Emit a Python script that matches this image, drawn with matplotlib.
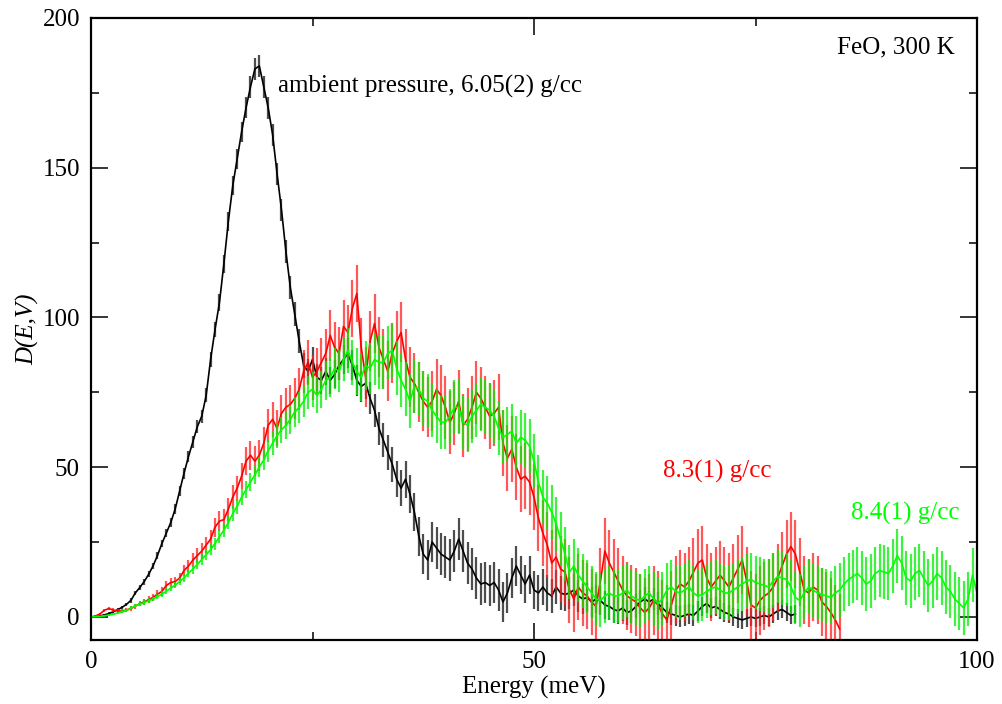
import matplotlib
matplotlib.use("Agg")
import matplotlib.pyplot as plt
from matplotlib.ticker import MultipleLocator
import numpy as np

plt.rcParams['font.family'] = ['Liberation Serif', 'DejaVu Serif']

STEP = 0.5
# ---------------- ambient pressure (black) ----------------
black_D = [
    0.0, 0.1, 0.3, 0.7, 1.1, 1.7, 2.4, 3.2, 4.2, 5.5,
    8.0, 9.8, 11.8, 14.2, 17.0, 20.5, 24.5, 28.0, 31.5, 36.0,
    42.0, 48.0, 53.5, 58.5, 63.5, 67.0, 74.0, 86.0, 96.0, 105.0,
    118.0, 132.0, 144.0, 153.0, 162.0, 170.0, 177.0, 183.0, 184.0, 177.0,
    170.0, 161.0, 148.0, 136.0, 122.0, 110.0, 101.0, 92.0, 84.0, 82.0,
    86.0, 80.0, 79.0, 82.0, 79.0, 81.0, 84.0, 86.0, 88.0, 84.0,
    79.0, 77.0, 78.0, 73.0, 69.0, 63.0, 59.0, 55.0, 51.0, 46.0,
    43.0, 46.0, 41.0, 35.0, 27.0, 21.0, 19.0, 25.0, 23.0, 21.0,
    20.0, 19.0, 22.0, 26.0, 22.0, 18.0, 16.0, 13.0, 11.0, 11.5,
    10.5, 11.5, 9.0, 5.0, 8.0, 13.0, 17.0, 14.0, 11.0, 14.0,
    9.0, 8.0, 10.0, 8.0, 7.0, 10.0, 8.0, 7.5, 8.0, 9.0,
    7.0, 6.0, 6.5, 5.0, 6.0, 5.5, 4.0, 3.5, 2.5, 2.0,
    3.0, 1.5, 2.0, 3.5, 5.0, 6.0, 5.0, 6.0, 4.5, 3.0,
    1.5, 1.0, 0.5, 0.0, 0.5, 1.0, 0.5, 2.0, 3.5, 4.5,
    3.0, 3.5, 2.5, 1.5, 1.0, 0.0, -0.5, -1.0, -0.5, 0.0,
    -0.5, 0.0, 0.5, 0.0, 1.0, 2.0, 2.5, 1.5, 0.5, 1.0,
]
black_err = [
    0.2, 0.2, 0.3, 0.3, 0.4, 0.4, 0.5, 0.5, 0.6, 0.7,
    0.8, 0.9, 1.0, 1.0, 1.1, 1.2, 1.3, 1.4, 1.5, 1.6,
    1.7, 1.8, 1.9, 2.0, 2.1, 2.2, 2.3, 2.4, 2.6, 2.8,
    3.0, 3.1, 3.2, 3.3, 3.4, 3.5, 3.6, 3.6, 3.6, 3.6,
    3.6, 3.6, 3.6, 3.7, 3.8, 3.9, 4.0, 4.0, 4.1, 4.2,
    4.3, 4.4, 4.4, 4.5, 4.6, 4.7, 4.8, 4.9, 5.0, 5.0,
    5.1, 5.2, 5.3, 5.4, 5.5, 5.6, 5.7, 5.8, 5.9, 6.0,
    6.1, 6.2, 6.3, 6.4, 6.5, 6.6, 6.7, 6.8, 6.9, 7.0,
    7.0, 7.0, 7.0, 7.0, 7.0, 7.0, 7.0, 7.0, 7.0, 7.0,
    7.0, 7.0, 6.9, 6.8, 6.8, 6.7, 6.6, 6.5, 6.4, 6.3,
    6.2, 6.1, 6.0, 5.9, 5.8, 5.7, 5.6, 5.5, 5.4, 5.3,
    5.2, 5.1, 5.0, 4.9, 4.8, 4.7, 4.6, 4.5, 4.4, 4.3,
    4.2, 4.1, 4.0, 4.0, 3.9, 3.9, 3.8, 3.8, 3.7, 3.7,
    3.6, 3.6, 3.5, 3.5, 3.5, 3.4, 3.4, 3.4, 3.3, 3.3,
    3.3, 3.2, 3.2, 3.2, 3.1, 3.1, 3.1, 3.0, 3.0, 3.0,
    3.0, 3.0, 3.0, 3.0, 3.0, 3.0, 3.0, 3.0, 3.0, 3.0,
]
# ---------------- 8.3(1) g/cc (red) ----------------
red_D = [
    0.0, 0.3, 1.0, 2.2, 2.8, 2.3, 2.0, 2.0, 2.3, 2.8,
    3.6, 4.4, 5.0, 5.8, 6.5, 7.6, 8.5, 10.5, 11.5, 11.8,
    13.0, 15.5, 17.0, 19.0, 20.5, 22.0, 24.0, 26.0, 30.0, 32.0,
    32.5, 36.0, 40.0, 43.0, 47.0, 52.0, 54.0, 52.0, 54.0, 58.0,
    64.0, 66.0, 63.0, 68.0, 70.0, 71.0, 73.0, 76.0, 82.0, 85.0,
    80.0, 82.0, 85.0, 88.0, 94.0, 90.0, 88.0, 97.0, 95.0, 103.0,
    108.0, 90.0, 80.0, 92.0, 98.0, 90.0, 86.0, 82.0, 88.0, 92.0,
    95.0, 86.0, 80.0, 78.0, 75.0, 72.0, 70.0, 72.0, 76.0, 74.0,
    70.0, 65.0, 68.0, 72.0, 64.0, 66.0, 70.0, 75.0, 73.0, 70.0,
    67.0, 68.0, 70.0, 58.0, 53.0, 56.0, 50.0, 46.0, 47.0, 45.0,
    40.0, 33.0, 28.0, 24.0, 18.0, 20.0, 16.0, 15.0, 9.0, 6.0,
    10.0, 8.0, 7.0, 5.0, 3.5, 12.0, 22.0, 18.0, 15.0, 12.0,
    9.0, 7.0, 6.0, 5.0, 3.0, 1.5, 3.0, 5.5, 4.0, 1.0,
    -1.0, 4.0, 9.0, 11.0, 10.0, 12.0, 15.0, 18.0, 19.0, 13.0,
    10.0, 12.0, 14.0, 12.0, 10.0, 13.0, 16.0, 19.0, 12.0, 4.0,
    3.0, 5.5, 7.0, 8.0, 10.0, 13.0, 17.0, 21.0, 23.5, 21.0,
    15.0, 9.0, 8.0, 10.0, 9.0, 5.0, 3.5, 1.5, -1.0, -4.0,
]
red_err = ([0.2, 0.3, 0.4, 0.5, 0.6, 0.6, 0.6, 0.6, 0.7, 0.7,
            0.8, 0.9, 1.0, 1.1, 1.2, 1.3, 1.4, 1.5, 1.6, 1.7,
            1.8, 1.9, 2.0, 2.2, 2.4, 2.6, 2.8, 3.0, 3.2, 3.4,
            3.6, 3.8, 4.0, 4.2, 4.4, 4.6, 4.8, 5.0, 5.2, 5.4,
            5.6, 5.8, 6.0, 6.2, 6.4, 6.6, 6.8, 7.0, 7.2, 7.4,
            7.6, 7.8, 8.0, 8.2, 8.4, 8.6, 8.8, 9.0, 9.2, 9.4,
            9.6, 9.8] + [10.0] * 18 + [10.5] * 10 + [11.0] * 30 + [11.5] * 50)
# ---------------- 8.4(1) g/cc (green) ----------------
green_D = [
    0.0, 0.1, 0.2, 0.4, 0.6, 0.9, 1.3, 1.7, 2.2, 2.9,
    3.7, 4.2, 4.8, 5.4, 6.0, 6.8, 7.6, 8.6, 9.6, 10.6,
    11.8, 13.0, 14.6, 16.0, 17.5, 19.2, 20.8, 22.5, 24.5, 26.8,
    29.0, 31.5, 34.5, 37.0, 40.0, 42.5, 45.0, 47.5, 50.0, 52.5,
    55.5, 58.0, 60.5, 62.5, 64.0, 66.0, 68.5, 70.0, 72.0, 75.0,
    76.0, 74.0, 76.0, 79.0, 80.0, 83.0, 82.0, 86.0, 89.0, 85.0,
    82.0, 80.0, 84.0, 83.0, 86.0, 85.0, 85.0, 88.0, 89.0, 83.0,
    79.0, 76.0, 72.0, 77.0, 76.0, 73.0, 72.0, 69.0, 67.0, 65.0,
    65.0, 67.0, 70.0, 70.0, 65.0, 64.0, 67.0, 69.0, 71.0, 70.0,
    69.0, 67.0, 63.0, 60.0, 61.0, 62.0, 58.0, 60.0, 59.0, 57.0,
    52.0, 45.0, 40.0, 38.0, 35.0, 31.0, 26.0, 21.0, 15.0, 17.0,
    14.0, 12.0, 10.0, 8.0, 6.0, 5.5, 7.0, 8.0, 7.0, 7.0,
    8.0, 9.0, 7.0, 6.0, 5.5, 7.0, 8.0, 6.0, 4.5, 6.0,
    9.0, 10.0, 8.5, 8.0, 9.0, 10.0, 8.0, 7.0, 7.5, 8.5,
    9.5, 10.0, 9.0, 8.0, 8.0, 9.0, 10.0, 11.0, 12.0, 12.5,
    11.5, 11.0, 10.5, 10.0, 12.0, 13.5, 13.0, 12.5, 10.0, 6.5,
    5.5, 8.0, 10.0, 9.0, 8.0, 7.5, 7.0, 6.5, 8.0, 9.0,
    11.0, 12.5, 13.5, 14.5, 13.0, 11.0, 12.0, 14.5, 15.5, 15.0,
    14.5, 17.0, 20.5, 18.0, 13.0, 12.0, 14.5, 15.5, 13.0, 10.5,
    12.0, 14.5, 13.0, 10.0, 8.5, 6.0, 4.5, 3.0, 6.0, 14.0,
    8.0,
]
green_err = ([0.1, 0.2, 0.2, 0.3, 0.3, 0.4, 0.4, 0.5, 0.5, 0.6,
              0.6, 0.7, 0.7, 0.8, 0.8, 0.9, 0.9, 1.0, 1.0, 1.1,
              1.2, 1.3, 1.4, 1.5, 1.6, 1.7, 1.8, 1.9, 2.0, 2.1,
              2.2, 2.3, 2.4, 2.5, 2.6, 2.8, 3.0, 3.2, 3.4, 3.6,
              3.8, 4.0, 4.2, 4.4, 4.6, 4.8, 5.0, 5.2, 5.4, 5.6,
              5.8, 6.0, 6.2, 6.4, 6.6, 6.8, 7.0, 7.2, 7.4, 7.6,
              7.8, 8.0, 8.2, 8.4, 8.6, 8.8] + [9.0] * 135)

black_E = np.arange(len(black_D)) * STEP
red_E = np.arange(len(red_D)) * STEP
green_E = np.arange(len(green_D)) * STEP

fig = plt.figure(figsize=(10.03, 7.04), dpi=100)
ax = fig.add_axes([91 / 1003, 1 - 640 / 704, (977 - 91) / 1003, (640 - 18) / 704])

series = [
    (black_E, black_D, black_err, '#000000', '#3a3a3a', 0.9),
    (red_E, red_D, red_err, '#ff0000', '#ff2020', 0.75),
    (green_E, green_D, green_err, '#00ff00', '#00ee00', 0.75),
]
for E, D, err, c, ec, a in series:
    ax.errorbar(E, D, yerr=err, fmt='none', ecolor=ec, elinewidth=1.6,
                capsize=0, alpha=a)
    ax.plot(E, D, color=c, lw=1.2)

ax.set_xlim(0, 100)
ax.set_ylim(-7.7, 200)
ax.xaxis.set_major_locator(MultipleLocator(50))
ax.xaxis.set_minor_locator(MultipleLocator(25))
ax.yaxis.set_major_locator(MultipleLocator(50))
ax.yaxis.set_minor_locator(MultipleLocator(25))
ax.tick_params(which='both', direction='in', top=True, right=True,
               labelsize=18, width=1.1)
ax.tick_params(which='major', length=12, pad=8)
ax.tick_params(which='minor', length=6)
for s in ax.spines.values():
    s.set_linewidth(1.6)

ax.set_xlabel('Energy (meV)', fontsize=18, labelpad=2)
ax.set_ylabel('D(E,V)', fontsize=18, fontstyle='italic', labelpad=2)

ax.text(21.1, 177, 'ambient pressure, 6.05(2) g/cc', fontsize=18,
        color='black', ha='left', va='center')
ax.text(97.5, 190.3, 'FeO, 300 K', fontsize=18, color='black',
        ha='right', va='center')
ax.text(64.6, 48.7, '8.3(1) g/cc', fontsize=18, color='#ff0000',
        ha='left', va='center')
ax.text(85.8, 34.4, '8.4(1) g/cc', fontsize=18, color='#00ff00',
        ha='left', va='center')

fig.savefig('out.png', dpi=100)
